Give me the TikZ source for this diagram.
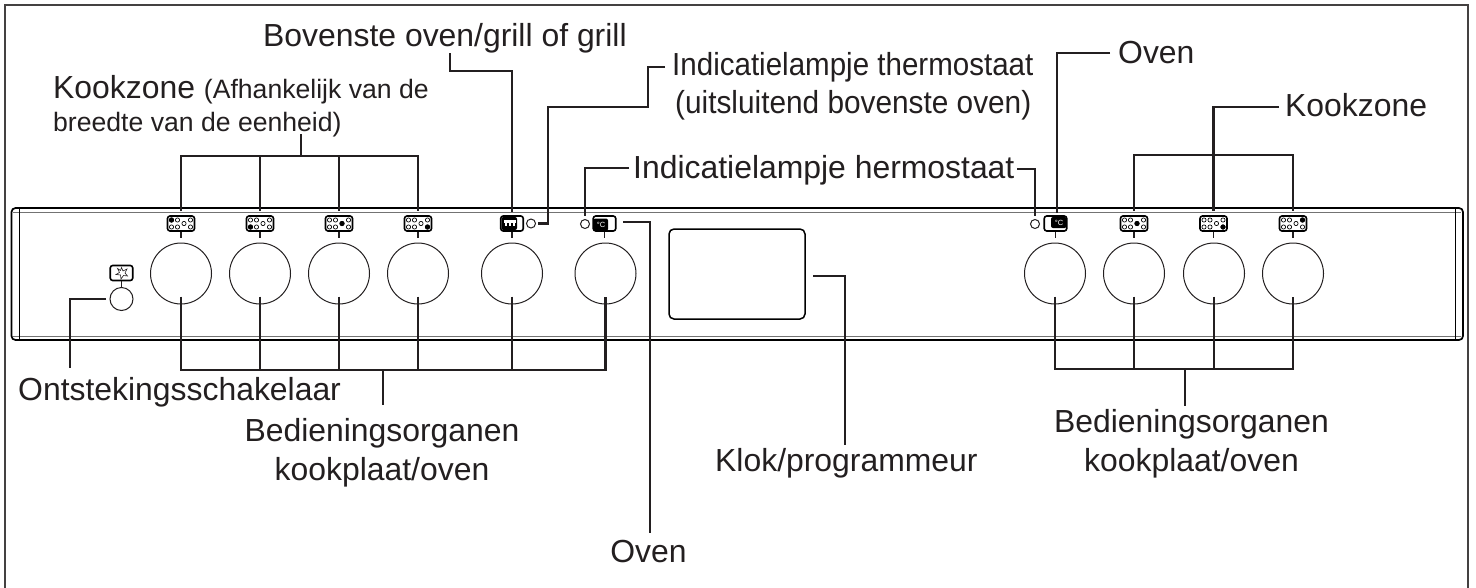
\documentclass[tikz,border=0pt]{standalone}
\usepackage{graphicx}
\usepackage{fontspec}
\setmainfont{Liberation Sans}
\usetikzlibrary{calc}
\definecolor{ink}{HTML}{231F20}
\tikzset{
  lab/.style={font=\fontsize{31.9}{34}\selectfont,text=ink,inner sep=0pt,anchor=base west},
  labc/.style={lab,anchor=base},
  lead/.style={draw=ink,line width=2.6pt,line cap=butt,line join=miter},
  knob/.style={circle,draw=ink,line width=1pt,minimum size=61pt,inner sep=0pt,fill=white},
  iconbox/.style={draw=black,line width=1.6pt,rounded corners=2.5pt,minimum width=27pt,minimum height=15pt,inner sep=0pt,fill=white},
  smallbox/.style={draw=black,line width=1.6pt,rounded corners=2.5pt,minimum width=22.5pt,minimum height=15pt,inner sep=0pt,fill=white},
  lamp/.style={circle,draw=ink,line width=1pt,minimum size=9pt,inner sep=0pt,fill=white},
}
\newcommand{\hobicon}[4]{%
  \node[iconbox] (#1) at (#2,223.5) {};
  \foreach \dx/\dy in {-9.5/-3.5,-3.5/-3.5,-9.5/3.5,-3.5/3.5,3/0,9.5/-3.5,9.5/3.5}
    \draw[black,line width=.7pt,fill=white] ($(#1.center)+(\dx,\dy)$) circle (2.1pt);
  \fill[black] ($(#1.center)+(#3,#4)$) circle (2.6pt);
  \draw[lead,line width=1.6pt] (#1.south) -- ++(0,6);
}
\begin{document}
\begin{tikzpicture}[x=1pt,y=-1pt]
\useasboundingbox (0,0) rectangle (1476,587);
\fill[white] (0,0) rectangle (1476,587);
% outer frame
\draw[draw=ink!85,line width=2.6pt] (5,590) -- (5,5) -- (1468,5) -- (1468,590);
% panel
\draw[black!55,line width=1pt] (13,212) -- (1461,212) (13,336.5) -- (1461,336.5);
\draw[black,line width=.9pt] (19.5,208) -- (19.5,340) (1455,208) -- (1455,340);
\draw[black,line width=1.7pt,rounded corners=4pt] (11.5,208) rectangle (1463,340);
% clock
\node[draw=black,line width=1.5pt,rounded corners=5pt,minimum width=136pt,minimum height=90pt,inner sep=0pt] (clock) at (737,274) {};
% knobs
\foreach \n/\x in {a/181,b/260,c/339,d/418,e/512,f/605.5,g/1055,h/1134,i/1214,j/1293}
  \node[knob] (k\n) at (\x,273.5) {};
\node[circle,draw=ink,line width=1pt,minimum size=23pt,inner sep=0pt] (ign) at (121.5,299) {};
% hob icons
\hobicon{ia}{181}{-9.5}{-3.5}
\hobicon{ib}{260}{-9.5}{3.5}
\hobicon{ic}{339}{3}{0}
\hobicon{id}{418}{9.5}{3.5}
\hobicon{ih}{1134}{3}{0}
\hobicon{ii}{1213.5}{9.5}{3.5}
\hobicon{ij}{1293}{9.5}{-3.5}
% igniter icon
\node[smallbox] (ispark) at (121.5,273) {};
\draw[ink,line width=.6pt] (121.5,267.5) -- (123,271) -- (127,269) -- (125,273) -- (127.5,276) -- (123.5,275.5) -- (121,279) -- (120.5,275) -- (116,274.5) -- (119.5,272.5) -- (117.5,268.5) -- (120.5,270.5) -- cycle;
\draw[lead,line width=1.6pt] (ispark.south) -- (ign.north);
% grill icon
\node[smallbox] (igrill) at (512,223.5) {};
\fill[black,rounded corners=2pt] (501.5,217) rectangle (517,230);
\fill[white] (504,220) rectangle (516,222.5);
\foreach \x in {505.5,509.5,513.5}
  \fill[white] (\x-1,222) rectangle (\x+1,225.5);
\draw[lead,line width=1.6pt] (igrill.south) -- ++(0,6);
% oven icon left
\node[smallbox] (iovl) at (604.5,223.5) {};
\fill[black,rounded corners=2pt] (593.5,218.5) rectangle (608,231);
\node[font=\fontsize{7.5}{8}\selectfont,text=white,inner sep=0pt] (tcl) at (601,225) {°C};
\draw[lead,line width=1.6pt] (iovl.south) -- ++(0,6);
% oven icon right
\node[smallbox] (iovr) at (1055.5,223.5) {};
\fill[black,rounded corners=2pt] (1051,217) rectangle (1066.5,228);
\node[font=\fontsize{7.5}{8}\selectfont,text=white,inner sep=0pt] (tcr) at (1059,222.5) {°C};
\draw[lead,line width=1.6pt] (iovr.south) -- ++(0,6);
% lamps
\node[lamp] (la) at (531,223.5) {};
\node[lamp] (lb) at (585,224) {};
\node[lamp] (lc) at (1035,224) {};
% labels
\node[lab] (tbov) at (263,46) {Bovenste oven/grill of grill};
\node[lab] (tkz) at (53,98) {Kookzone {\fontsize{26.6}{28}\selectfont (Afhankelijk van de}};
\node[lab,font=\fontsize{26.6}{28}\selectfont] (tkz2) at (53,131) {breedte van de eenheid)};
\node[lab] (tith) at (672,75) {\scalebox{.926}[1]{Indicatielampje thermostaat}};
\node[lab] (tith2) at (675,113) {\scalebox{.934}[1]{(uitsluitend bovenste oven)}};
\node[lab] (tihe) at (633,178) {Indicatielampje hermostaat};
\node[lab] (tovr) at (1118,63) {Oven};
\node[lab] (tkzr) at (1285,116) {Kookzone};
\node[lab] (tont) at (18,400) {Ontstekingsschakelaar};
\node[labc] (tbl) at (382,441) {Bedieningsorganen};
\node[labc] (tbl2) at (382,480) {kookplaat/oven};
\node[labc] (tbr) at (1191.5,432) {Bedieningsorganen};
\node[labc] (tbr2) at (1191.5,471) {kookplaat/oven};
\node[lab] (tklok) at (715,471) {Klok/programmeur};
\node[labc] (tovb) at (648.5,562) {Oven};
% free ends
\coordinate (ekz) at (301,134);
\coordinate (ebars) at (301,156);
\coordinate (egr) at (450,53);
\coordinate (etha) at (665,67);
\coordinate (ethb) at (648,107);
\coordinate (ethc) at (548,107);
\coordinate (ethd) at (538,223.5);
\coordinate (ehl) at (629,168);
\coordinate (ehr) at (1017,169);
\coordinate (eovr) at (1110,53);
\coordinate (ekr) at (1279,107);
\coordinate (eob) at (623,222);
\coordinate (eoe) at (650,533);
\coordinate (ekl) at (813,276);
\coordinate (eke) at (845,445);
\coordinate (eig) at (106,299);
\coordinate (eie) at (70,368);
\coordinate (ebl) at (383,370);
\coordinate (ebr) at (1185,369);
% connectors top
\draw[lead] ([yshift=4pt]ia.north) |- (ebars) -| ([yshift=4pt]id.north);
\draw[lead] ([yshift=4pt]ib.north) -- (ib.north |- ebars);
\draw[lead] ([yshift=4pt]ic.north) -- (ic.north |- ebars);
\draw[lead] (ekz) -- (ebars);
\draw[lead] (egr) |- (512,71) -- ([yshift=3pt]igrill.north);
\draw[lead] (etha) -| (ethb) -- (ethc) |- (ethd);
\draw[lead] (ehl) -| ([yshift=3.5pt]lb.north);
\draw[lead] (ehr) -| ([yshift=3.5pt]lc.north);
\draw[lead] (eovr) -| (1057,213);
\draw[lead] (ekr) -| (ii.north |- 0,155);
\draw[lead] ([yshift=4pt]ih.north) |- (ii.north |- 0,155) -| ([yshift=4pt]ij.north);
\draw[lead] ([yshift=4pt]ii.north) -- (ii.north |- 0,155);
% connectors bottom
\draw[lead] ([yshift=-23pt]ka.center) |- ([yshift=-96.5pt]kf.center) -- ([yshift=-23pt]kf.center);
\foreach \n in {b,c,d,e}
  \draw[lead] ([yshift=-23pt]k\n.center) -- ([yshift=-96.5pt]k\n.center);
\draw[lead] (ebl) -- ++(0,35);
\draw[lead] ([yshift=-23pt]kg.center) |- ([yshift=-95.5pt]kj.center) -- ([yshift=-23pt]kj.center);
\foreach \n in {h,i}
  \draw[lead] ([yshift=-23pt]k\n.center) -- ([yshift=-95.5pt]k\n.center);
\draw[lead] (ebr) -- ++(0,37);
\draw[lead] (eig) -| (eie);
\draw[lead] (eob) -| (eoe);
\draw[lead] (ekl) -| (eke);
\end{tikzpicture}
\end{document}
